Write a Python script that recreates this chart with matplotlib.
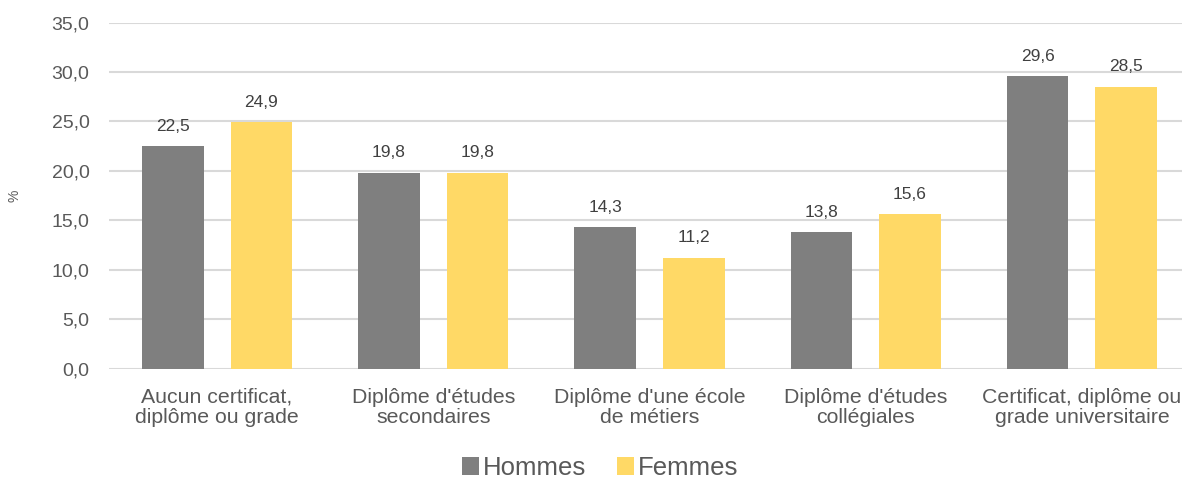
import matplotlib
matplotlib.use("Agg")
import matplotlib.pyplot as plt
import numpy as np

categories = ["Aucun certificat,\ndiplôme ou grade", "Diplôme d'études\nsecondaires",
              "Diplôme d'une école\nde métiers", "Diplôme d'études\ncollégiales",
              "Certificat, diplôme ou\ngrade universitaire"]
hommes = [22.5, 19.8, 14.3, 13.8, 29.6]
femmes = [24.9, 19.8, 11.2, 15.6, 28.5]
series_names = ["Hommes", "Femmes"]
yticks = [0, 5, 10, 15, 20, 25, 30, 35]

plt.rcParams['font.family'] = ['Liberation Sans', 'DejaVu Sans']

fig = plt.figure(figsize=(11.82, 4.8), dpi=100)
ax = fig.add_axes([109/1182, (480-368.5)/480, (1190-109)/1182, (368.5-22.7)/480])

x = np.arange(len(categories))
w = 0.285
off = 0.205
gray = "#7f7f7f"
yellow = "#ffd966"
b1 = ax.bar(x - off, hommes, w, color=gray, label=series_names[0], zorder=3)
b2 = ax.bar(x + off, femmes, w, color=yellow, label=series_names[1], zorder=3)

def fmt(v):
    return f"{v:.1f}".replace(".", ",")

for bars, vals in ((b1, hommes), (b2, femmes)):
    for r, v in zip(bars, vals):
        ax.annotate(fmt(v), (r.get_x() + r.get_width()/2, v), xytext=(0, 9),
                    textcoords="offset points", ha="center", va="bottom",
                    fontsize=12.5, color="#404040")

ax.set_xlim(-0.5, len(categories) - 0.5)
ax.set_ylim(0, 35)
ax.set_yticks(yticks)
ax.set_yticklabels([fmt(t) for t in yticks])
ax.set_xticks(x)
ax.set_xticklabels(categories, fontsize=15.3, color="#595959", linespacing=1.1)
ax.tick_params(axis='y', labelsize=14, colors="#595959", length=0, pad=14)
ax.tick_params(axis='x', length=0, pad=14)
ax.grid(axis='y', color="#d9d9d9", linewidth=1.5, zorder=0)
for s in ax.spines.values():
    s.set_visible(False)
ax.set_ylabel("%", fontsize=10, color="#595959", labelpad=22)

fig.legend(handles=[b1, b2], labels=series_names, loc="center", bbox_to_anchor=(600/1182, 1 - 468/480),
           ncol=2, frameon=False, fontsize=18.5, handlelength=0.65, handleheight=0.65,
           handletextpad=0.15, columnspacing=1.2, labelcolor="#595959")

fig.savefig("out.png", dpi=100)
